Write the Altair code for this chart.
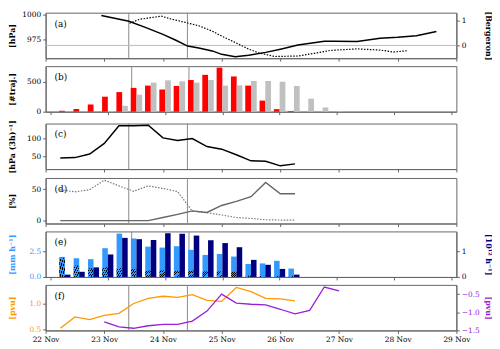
import altair as alt
import pandas as pd

FONT = "DejaVu Serif"
W, H = 415, 46
FRAME = "#666666"

# ---- x axis (days since 22 Nov 00 UTC) ----
day_ticks = [0, 1, 2, 3, 4, 5, 6, 7]
day_labels = ["22 Nov", "23 Nov", "24 Nov", "25 Nov", "26 Nov", "27 Nov", "28 Nov", "29 Nov"]
event_days = [1.4167, 2.4167]
panel_letters = ["(a)", "(b)", "(c)", "(d)", "(e)", "(f)"]

# ---- (a) ----
slp_days = [0.95, 1.42, 1.71, 2.0, 2.22, 2.42, 2.61, 2.84, 3.0, 3.23, 3.46, 3.75, 4.02, 4.3, 4.75, 4.92, 5.31, 5.7, 6.0, 6.32, 6.66]
slp_hpa = [999.5, 993.5, 987, 980, 974, 968, 966, 963, 959.5, 957, 958.5, 961.5, 965, 969, 973, 973, 972.7, 976, 977, 978.5, 983]
berg_days = [1.43, 1.6, 1.97, 2.16, 2.42, 2.61, 2.84, 3.0, 3.23, 3.46, 3.63, 3.9, 4.3, 4.58, 4.86, 5.31, 5.71, 5.93, 6.18]
berg_val = [0.9, 1.06, 1.19, 1.06, 0.91, 0.8, 0.58, 0.38, 0.12, -0.15, -0.3, -0.45, -0.43, -0.32, -0.2, -0.14, -0.19, -0.27, -0.21]

# ---- 6-hourly times ----
t6_a = [0.25, 0.5, 0.75, 1.0, 1.25, 1.5, 1.75, 2.0, 2.25, 2.5, 2.75, 3.0, 3.25, 3.5, 3.75, 4.0, 4.25]
t6_grey = [1.0, 1.25, 1.5, 1.75, 2.0, 2.25, 2.5, 2.75, 3.0, 3.25, 3.5, 3.75, 4.0, 4.25, 4.5, 4.75, 5.0]
t6_purple = [1.0, 1.25, 1.5, 1.75, 2.0, 2.25, 2.5, 2.75, 3.0, 3.25, 3.5, 3.75, 4.0, 4.25, 4.5, 4.75, 5.0]

# ---- (b) ----
traj_red = [15, 45, 120, 250, 327, 397, 435, 370, 430, 528, 615, 735, 588, 435, 185, 42, 12]
traj_grey = [10, 98, 283, 485, 523, 507, 485, 528, 435, 440, 512, 512, 500, 430, 217, 70, 10]

# ---- (c) ----
dp_rate = [45.6, 47, 57, 86.6, 135.7, 136, 137.5, 102, 94.6, 100, 77.7, 70.5, 55, 38, 37, 24, 29.5]

# ---- (d) ----
pct_dotted = [49, 45.5, 49, 64, 55, 46.5, 55, 51, 46, 15, 12.5, 9, 5, 3.5, 1.5, 1, 1]
pct_solid = [0, 0, 0, 0, 0, 0, 0, 5, 10, 15.5, 13, 24, 30.5, 38, 60.5, 42.5, 42.5]

# ---- (e) ----
precip = [1.94, 1.81, 1.72, 2.78, 4.19, 3.72, 2.93, 2.84, 2.97, 2.62, 2.13, 2.22, 1.97, 1.25, 1.31, 1.56, 0.81]
precip_hatch = [1.85, 1.1, 0.84, 0.94, 0.87, 0.78, 0.62, 0.62, 0.56, 0.62, 0.53, 0.53, 0.5, 0.12, 0.1, 0.1, 0.08]
flux = [0.09, 0.2, 0.37, 0.87, 1.51, 1.46, 1.43, 1.69, 1.67, 1.6, 1.42, 1.31, 1.15, 0.66, 0.47, 0.31, 0.09]

# ---- (f) ----
pv_orange = [0.52, 0.74, 0.69, 0.77, 0.81, 1.0, 1.1, 1.14, 1.12, 1.17, 1.06, 1.04, 1.31, 1.23, 1.1, 1.09, 1.05]
pv_purple = [-1.27, -1.41, -1.45, -1.38, -1.34, -1.34, -1.25, -0.97, -0.5, -0.75, -0.78, -0.8, -0.92, -1.05, -0.95, -0.3, -0.41]

C_RED, C_GREY = "#ff0000", "#c0c0c0"
C_LBLUE, C_NAVY = "#3399ff", "#00007f"
C_ORANGE, C_PURPLE = "#ff9900", "#9b1fd6"

LABEL_EXPR = "[" + ",".join("'%s'" % s for s in day_labels) + "][datum.value]"


def df(t, v):
    return pd.DataFrame({"t": t, "v": v})


def X(labels=False):
    return alt.X("t:Q", title=None,
                 scale=alt.Scale(domain=[0, 7], nice=False, zero=False),
                 axis=alt.Axis(values=day_ticks, labelExpr=LABEL_EXPR, labels=labels,
                               grid=False, tickSize=3, labelFlush=False, labelPadding=2))


def Y(domain, orient="left", values=None, title="", color="black", fmt="d", show=True):
    scale = alt.Scale(domain=domain, nice=False, zero=False)
    if not show:
        return alt.Y("v:Q", scale=scale, axis=None)
    kw = dict(orient=orient, values=values, title=title, grid=False, tickSize=3,
              labelColor=color, titleColor=color, titleBaseline="middle", format=fmt,
              titleX=(-33 if orient == "left" else 31), titleY=H / 2)
    return alt.Y("v:Q", scale=scale, axis=alt.Axis(**kw))


def rules(labels=False):
    return alt.Chart(pd.DataFrame({"t": event_days})).mark_rule(
        color="#8c8c8c", strokeWidth=1).encode(x=X(labels))


def letter(i):
    return alt.Chart(pd.DataFrame({"s": [panel_letters[i]]})).mark_text(
        align="left", baseline="middle", fontSize=9, font=FONT).encode(
        x=alt.value(9), y=alt.value(11), text="s:N")


# (a)
dom_a_l, dom_a_r = [955.5, 1002.3], [-0.52, 1.33]
pa = alt.layer(
    rules(),
    alt.Chart(pd.DataFrame({"v": [0]})).mark_rule(color="#bbbbbb", strokeWidth=1).encode(
        y=Y(dom_a_r, show=False)),
    alt.Chart(df(slp_days, slp_hpa)).mark_line(color="black", strokeWidth=1.5).encode(
        x=X(), y=Y(dom_a_l, "left", [975, 1000], "[hPa]")),
    alt.Chart(df(berg_days, berg_val)).mark_line(color="black", strokeWidth=1.2, strokeDash=[1.5, 1.5]).encode(
        x=X(), y=Y(dom_a_r, "right", [0, 1], "[Bergeron]")),
    letter(0),
).resolve_scale(y="independent").properties(width=W, height=H)

# (b)
dom_b = [0, 760]
pb = alt.layer(
    rules(),
    alt.Chart(df(t6_a, traj_red)).mark_bar(color=C_RED, width=5.8, xOffset=-2.9).encode(
        x=X(), y=Y(dom_b, "left", [0, 500], "[#traj.]")),
    alt.Chart(df(t6_grey, traj_grey)).mark_bar(color=C_GREY, width=5.8, xOffset=2.9).encode(
        x=X(), y=Y(dom_b, "left", [0, 500], "[#traj.]")),
    letter(1),
).properties(width=W, height=H)

# (c)
dom_c = [15, 142]
pc = alt.layer(
    rules(),
    alt.Chart(df(t6_a, dp_rate)).mark_line(color="black", strokeWidth=1.5).encode(
        x=X(), y=Y(dom_c, "left", [50, 100], "[hPa (3h)\u207b\u00b9]")),
    letter(2),
).properties(width=W, height=H)

# (d)
dom_d = [-4.5, 67.5]
pd_ = alt.layer(
    rules(),
    alt.Chart(df(t6_a, pct_dotted)).mark_line(color="#777777", strokeWidth=1.2, strokeDash=[1.5, 1.5]).encode(
        x=X(), y=Y(dom_d, "left", [0, 50], "[%]")),
    alt.Chart(df(t6_a, pct_solid)).mark_line(color="#666666", strokeWidth=1.4).encode(
        x=X(), y=Y(dom_d, "left", [0, 50], "[%]")),
    letter(3),
).properties(width=W, height=H)

# (e)
dom_e_l, dom_e_r = [0, 4.4], [0, 1.76]
stops = []
n = 5
for k in range(n):
    a, b, c = k / n, (k + 0.65) / n, (k + 1) / n
    stops += [alt.GradientStop(offset=a, color=C_LBLUE), alt.GradientStop(offset=b, color=C_LBLUE),
              alt.GradientStop(offset=b, color="#000000"), alt.GradientStop(offset=c, color="#000000")]
hatch = alt.LinearGradient(gradient="linear", stops=stops, x1=0, y1=0, x2=1, y2=1)

pe = alt.layer(
    rules(),
    alt.Chart(df(t6_a, precip)).mark_bar(color=C_LBLUE, width=5.6, xOffset=-2.8).encode(
        x=X(), y=Y(dom_e_l, "left", [0, 2.5], "[mm h\u207b\u00b9]", C_LBLUE, ".1f")),
    alt.Chart(df(t6_a, precip_hatch)).mark_bar(fill=hatch, width=5.6, xOffset=-2.8).encode(
        x=X(), y=Y(dom_e_l, show=False)),
    alt.Chart(df(t6_a, flux)).mark_bar(color=C_NAVY, width=5.6, xOffset=2.8).encode(
        x=X(), y=Y(dom_e_r, "right", [0, 1], "[10\u00b9\u00b2 h\u207b\u00b9]", C_NAVY)),
    letter(4),
).resolve_scale(y="independent").properties(width=W, height=H)

# (f)
dom_f_l, dom_f_r = [0.48, 1.36], [-1.51, -0.24]
pf = alt.layer(
    rules(True),
    alt.Chart(df(t6_a, pv_orange)).mark_line(color=C_ORANGE, strokeWidth=1.3).encode(
        x=X(True), y=Y(dom_f_l, "left", [0.5, 1.0], "[pvu]", C_ORANGE, ".1f")),
    alt.Chart(df(t6_purple, pv_purple)).mark_line(color=C_PURPLE, strokeWidth=1.3).encode(
        x=X(True), y=Y(dom_f_r, "right", [-1.5, -1.0, -0.5], "[pvu]", C_PURPLE, ".1f")),
    letter(5),
).resolve_scale(y="independent").properties(width=W, height=H)

chart = alt.vconcat(pa, pb, pc, pd_, pe, pf, spacing=3).properties(
    padding={"left": 0, "top": 0, "right": 0, "bottom": 0}
).configure(font=FONT).configure_axis(
    labelFont=FONT, titleFont=FONT, labelFontSize=7.5, titleFontSize=8,
    titleFontWeight="bold", domainColor=FRAME, tickColor=FRAME
).configure_view(stroke=FRAME)

chart.save("out.html", embed_options={"renderer": "svg", "actions": False})
